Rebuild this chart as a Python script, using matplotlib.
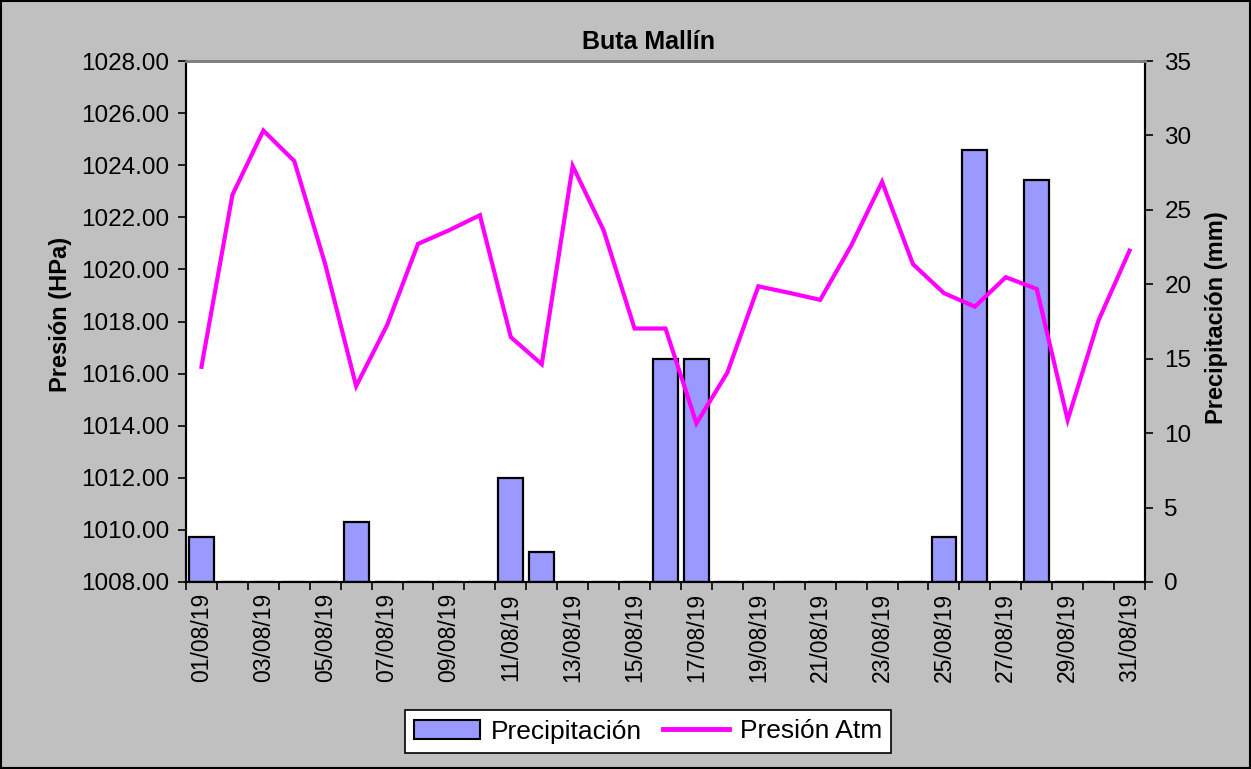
# Buta Mallín - presión y precipitación, agosto 2019
import matplotlib
matplotlib.use("Agg")
from matplotlib import pyplot as plt
from matplotlib.patches import Rectangle, Patch
from matplotlib.lines import Line2D

plt.rcParams['font.family'] = ['Liberation Sans', 'DejaVu Sans']

# datos
dias = ["{:02d}/08/19".format(d) for d in range(1, 32)]
presion = [1016.26, 1022.86, 1025.33, 1024.16, 1020.20, 1015.52, 1017.86, 1020.98,
           1021.50, 1022.08, 1017.40, 1016.36, 1023.97, 1021.50, 1017.73, 1017.73,
           1014.09, 1016.04, 1019.35, 1019.10, 1018.83, 1020.91, 1023.36, 1020.20,
           1019.09, 1018.57, 1019.70, 1019.25, 1014.22, 1018.05, 1020.72]
precip = [3, 0, 0, 0, 0, 4, 0, 0, 0, 0, 7, 2, 0, 0, 0, 15,
          15, 0, 0, 0, 0, 0, 0, 0, 3, 29, 0, 27, 0, 0, 0]
ticks_izq = [1008 + 2 * i for i in range(11)]
ticks_der = [0, 5, 10, 15, 20, 25, 30, 35]

gris = "#C0C0C0"
fig = plt.figure(figsize=(12.51, 7.69), dpi=100, facecolor=gris)
fig.patches.append(Rectangle((0.0008, 0.0013), 0.9984, 0.9974, transform=fig.transFigure,
                             fill=False, edgecolor="black", linewidth=1.5))

ax = fig.add_axes([186 / 1251, 1 - 582 / 769, (1145 - 186) / 1251, (582 - 61) / 769])
ax2 = ax.twinx()

x = list(range(len(dias)))

# barras (eje derecho)
ax.bar(x, precip, width=0.8, color="#9999FF", edgecolor="black", linewidth=1.6)
ax.set_ylim(0, 35)
ax.set_xlim(-0.5, len(dias) - 0.5)
ax.yaxis.tick_right()
ax.set_yticks(ticks_der)
ax.set_yticklabels([str(t) for t in ticks_der])

# línea (eje izquierdo)
ax2.plot(x, presion, color="#FF00FF", linewidth=3.0, solid_joinstyle="miter")
ax2.set_ylim(1008, 1028)
ax2.yaxis.tick_left()
ax2.set_yticks(ticks_izq)
ax2.set_yticklabels(["{:.2f}".format(t) for t in ticks_izq])

# eje x
ax.set_xticks(x)
ax.set_xticklabels([d if i % 2 == 0 else "" for i, d in enumerate(dias)], rotation=90)
ax.set_xticks([i - 0.5 for i in range(len(dias) + 1)], minor=True)
ax.tick_params(axis="x", which="major", length=0, pad=8, labelsize=16.5)
ax.tick_params(axis="x", which="minor", length=6, width=1.2, direction="out")
ax.tick_params(axis="y", length=6, width=1.2, direction="out", labelsize=17.5, pad=8)
ax2.tick_params(axis="y", length=6, width=1.2, direction="out", labelsize=17.5, pad=6)

for a in (ax, ax2):
    a.spines["top"].set_color("#808080")
    a.spines["top"].set_linewidth(2)
    for s in ("left", "right", "bottom"):
        a.spines[s].set_color("black")
        a.spines[s].set_linewidth(1.5)

# textos
fig.text(648 / 1251, 1 - 42 / 769, "Buta Mallín", ha="center", va="center",
         fontsize=18, fontweight="bold")
fig.text(60 / 1251, 1 - 314 / 769, "Presión (HPa)", ha="center", va="center",
         rotation=90, fontsize=17, fontweight="bold")
fig.text(1217 / 1251, 1 - 318 / 769, "Precipitación (mm)", ha="center", va="center",
         rotation=90, fontsize=17, fontweight="bold")

# leyenda
h = [Patch(facecolor="#9999FF", edgecolor="black", linewidth=1.5),
     Line2D([0], [0], color="#FF00FF", linewidth=3.5)]
leg = fig.legend(h, ["Precipitación", "Presión Atm"], loc="center",
                 bbox_to_anchor=(648 / 1251, 1 - 731.5 / 769), ncol=2,
                 fontsize=19, fancybox=False, framealpha=1, edgecolor="black",
                 borderpad=0.35, handlelength=2.5, handletextpad=0.4, columnspacing=0.8)
leg.get_frame().set_linewidth(1.2)

plt.savefig("out.png", dpi=100, facecolor=gris)
